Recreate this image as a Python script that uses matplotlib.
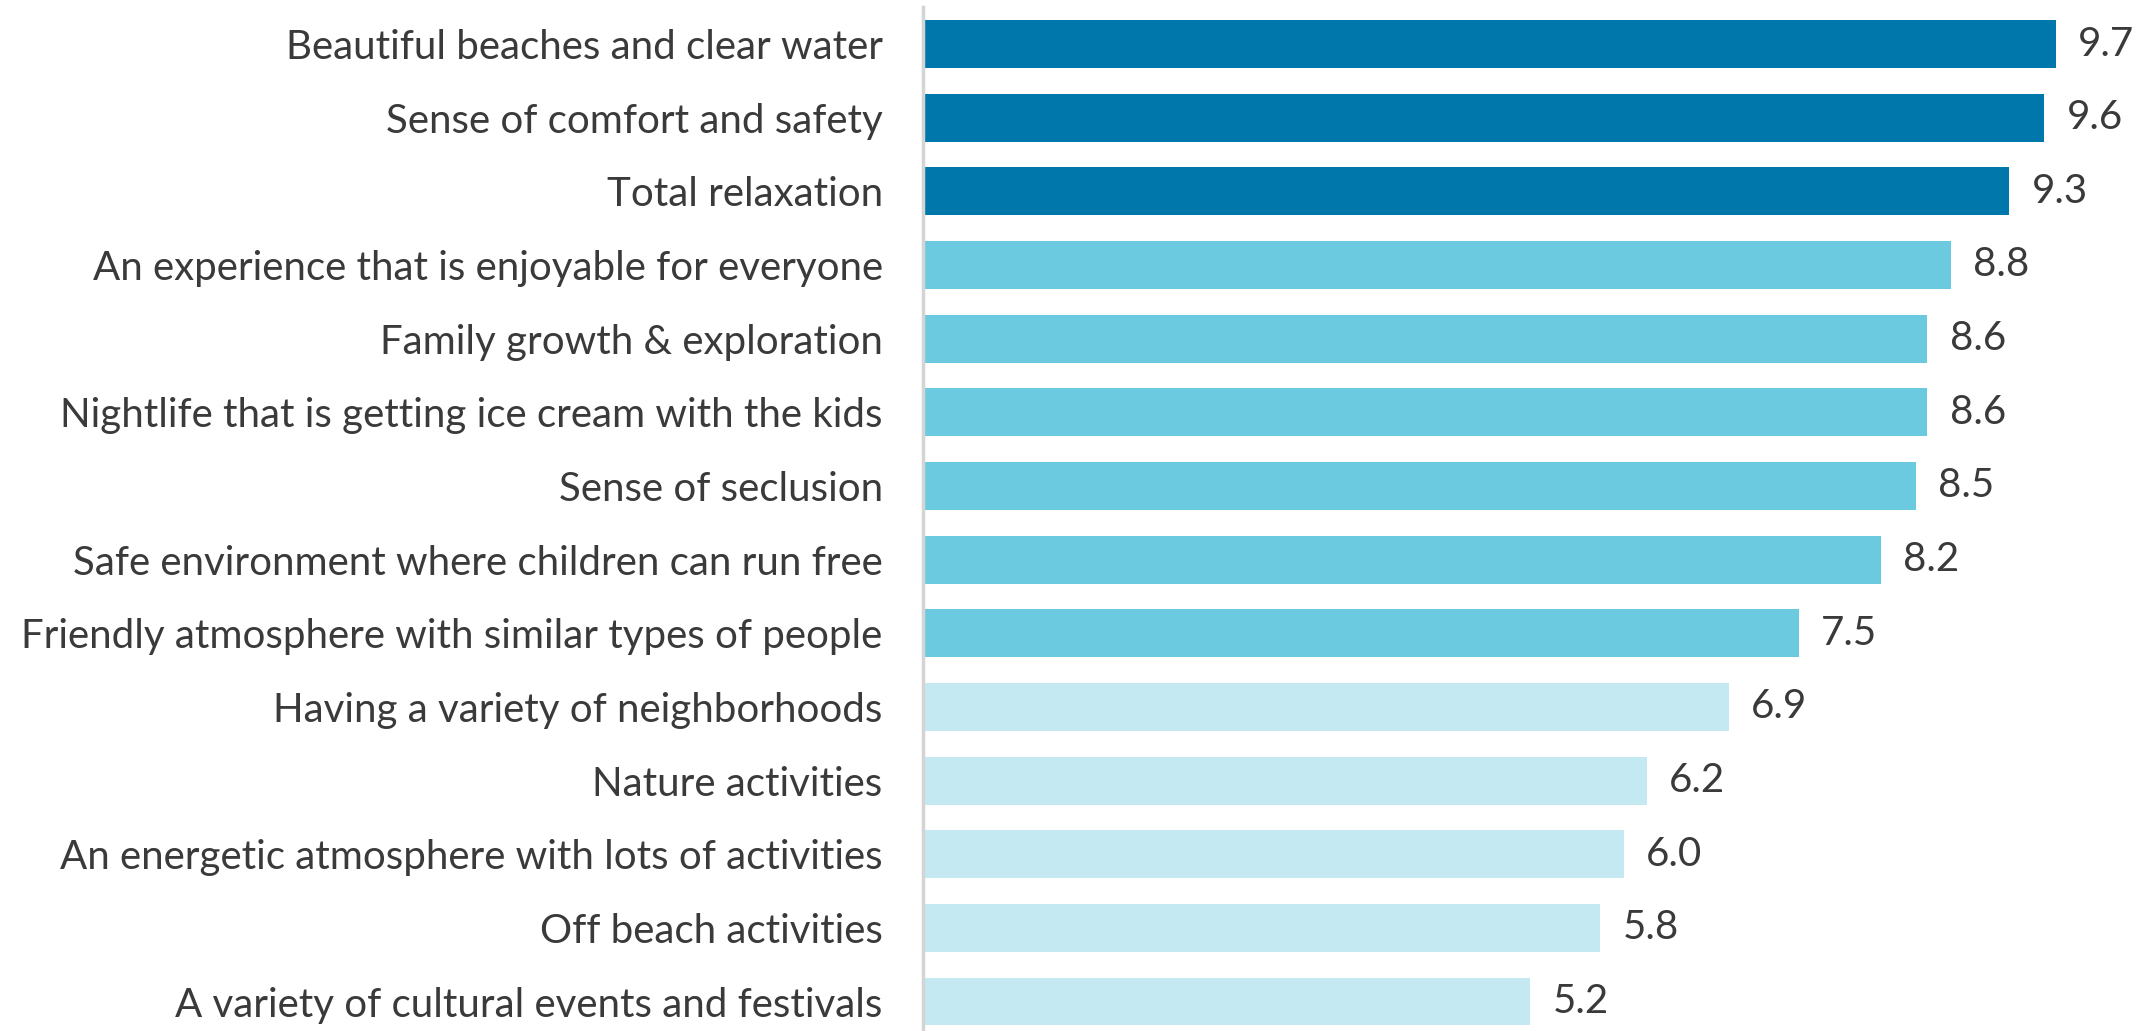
import matplotlib.pyplot as plt

labels = [
    "Beautiful beaches and clear water",
    "Sense of comfort and safety",
    "Total relaxation",
    "An experience that is enjoyable for everyone",
    "Family growth & exploration",
    "Nightlife that is getting ice cream with the kids",
    "Sense of seclusion",
    "Safe environment where children can run free",
    "Friendly atmosphere with similar types of people",
    "Having a variety of neighborhoods",
    "Nature activities",
    "An energetic atmosphere with lots of activities",
    "Off beach activities",
    "A variety of cultural events and festivals",
]
values = [9.7, 9.6, 9.3, 8.8, 8.6, 8.6, 8.5, 8.2, 7.5, 6.9, 6.2, 6.0, 5.8, 5.2]
tiers = [0, 0, 0, 1, 1, 1, 1, 1, 1, 2, 2, 2, 2, 2]
tier_colors = ["#0077aa", "#6bcae0", "#c4e9f2"]

plt.rcParams["font.family"] = ["Lato", "DejaVu Sans"]
text_color = "#3a3a3a"

fig = plt.figure(figsize=(21.54, 10.31), dpi=100)
ax = fig.add_axes([923 / 2154, 0, 1 - 923 / 2154, 1])

ypos = list(range(len(values)))
ax.barh(ypos, values, height=0.65, color=[tier_colors[t] for t in tiers])

for y, v in zip(ypos, values):
    ax.text(v + 0.19, y, f"{v:.1f}", va="center", ha="left",
            fontsize=29, color=text_color)

ax.set_xlim(0, (2154 - 923) / 116.8)
ax.set_ylim(13.4, -44 / 73.65)
ax.set_yticks(ypos)
ax.set_yticklabels(labels, fontsize=29, color=text_color)
ax.tick_params(axis="y", length=0, pad=29)
ax.set_xticks([])

for side in ["top", "right", "bottom"]:
    ax.spines[side].set_visible(False)
ax.spines["left"].set_color("#d4d4d4")
ax.spines["left"].set_linewidth(2.5)
ax.spines["left"].set_bounds(-0.5, 13.4)

fig.savefig("out.png", dpi=100)
